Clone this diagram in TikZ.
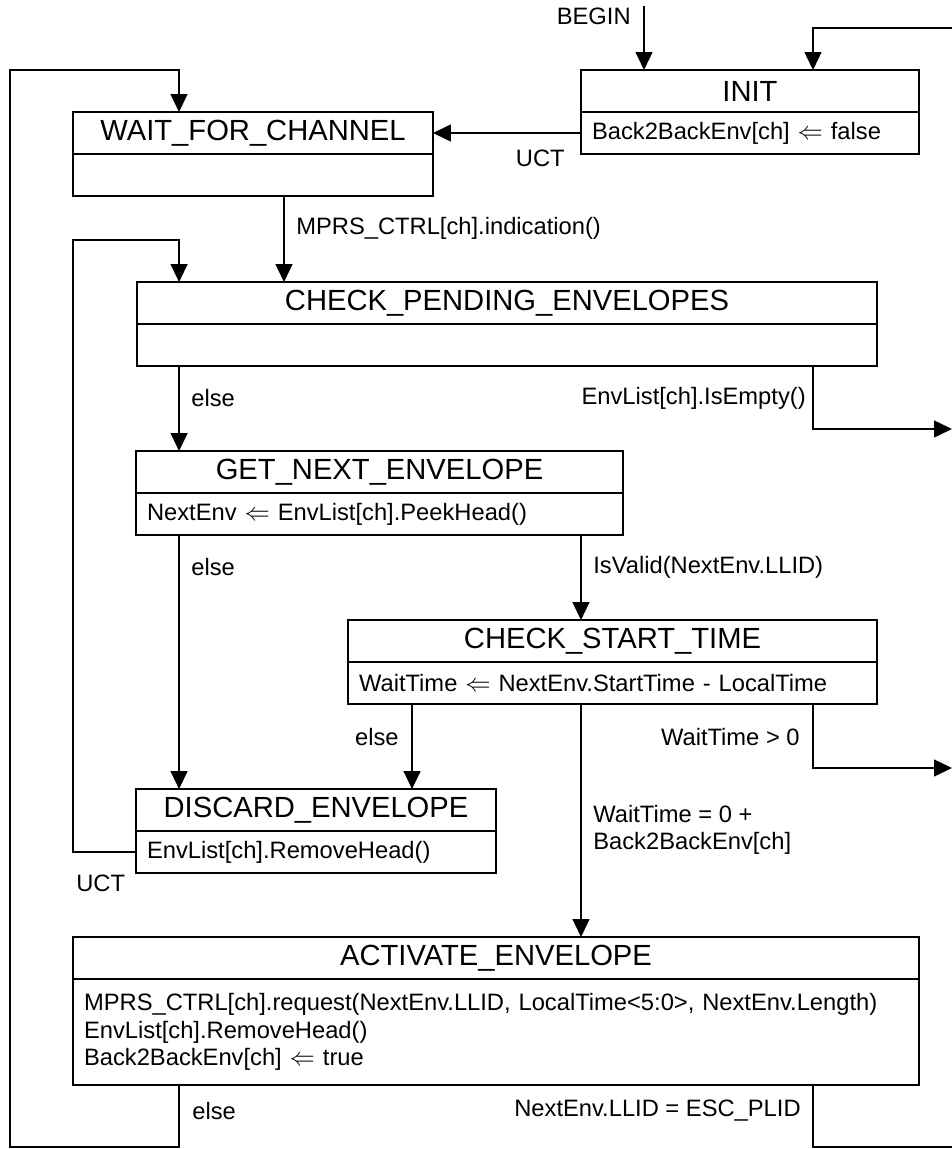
\documentclass[tikz,border=0pt]{standalone}
\usepackage{fontspec}
\setmainfont{Liberation Sans}
\usetikzlibrary{arrows.meta,positioning}

\tikzset{
  box/.style={draw, line width=0.9pt, outer sep=0pt, minimum height=0.84cm},
  title/.style={box, anchor=north, inner sep=0pt, font=\fontsize{16.6}{20}\selectfont},
  body/.style={box, inner xsep=0.22cm, align=left, font=\fontsize{13.5}{14.7}\selectfont},
  lbl/.style={inner sep=0pt, font=\fontsize{13.5}{15}\selectfont},
  trans/.style={line width=0.8pt, -{Triangle[length=0.36cm,width=0.34cm]}},
  plain/.style={line width=0.8pt}
}

\begin{document}
\begin{tikzpicture}[x=0.02cm, y=-0.02cm]
                \useasboundingbox (0,0) rectangle (952,1149);
                % states
                \node[title, minimum width=6.76cm] (init) at (750,70) {INIT};
                \node[body, text width=6.32cm, below=0pt of init] (initB) {Back2BackEnv[ch] $\Leftarrow$ false};
                \node[title, minimum width=7.2cm] (waitch) at (253,112) {WAIT\_FOR\_CHANNEL};
                \node[body, text width=6.76cm, below=0pt of waitch] (waitchB) {};
                \node[title, minimum width=14.8cm] (chkpend) at (507,282) {CHECK\_PENDING\_ENVELOPES};
                \node[body, text width=14.36cm, below=0pt of chkpend] (chkpendB) {};
                \node[title, minimum width=9.74cm] (getnext) at (379.5,451) {GET\_NEXT\_ENVELOPE};
                \node[body, text width=9.3cm, below=0pt of getnext] (getnextB) {NextEnv $\Leftarrow$ EnvList[ch].PeekHead()};
                \node[title, minimum width=10.58cm] (chkstart) at (612.5,620) {CHECK\_START\_TIME};
                \node[body, text width=10.14cm, below=0pt of chkstart] (chkstartB) {WaitTime $\Leftarrow$ NextEnv.StartTime - LocalTime};
                \node[title, minimum width=7.2cm] (discard) at (316,789) {DISCARD\_ENVELOPE};
                \node[body, text width=6.76cm, below=0pt of discard] (discardB) {EnvList[ch].RemoveHead()};
                \node[title, minimum width=16.92cm] (activate) at (496,937) {ACTIVATE\_ENVELOPE};
                \node[body, text width=16.48cm, minimum height=2.12cm, font=\fontsize{13.5}{15.6}\selectfont, below=0pt of activate] (activateB) {MPRS\_CTRL[ch].request(NextEnv.LLID, LocalTime<5:0>, NextEnv.Length)\\EnvList[ch].RemoveHead()\\Back2BackEnv[ch] $\Leftarrow$ true};
                % free ends and bends
                \coordinate (begin) at (644,6);
                \coordinate (toinit) at (952,28);
                \coordinate (outerbot) at (10,1147);
                \coordinate (outertop) at (10,70);
                \coordinate (innertop) at (73,240);
                \coordinate (exitempty) at (952,429);
                \coordinate (exitwait) at (952,768);
                \coordinate (toesc) at (952,1147);
                % transitions
                \draw[trans] (begin) -- (begin |- init.north);
                \draw[trans] (toinit) -| ([xshift=1.26cm]init.north);
                \draw[trans] (initB.west) -- (initB.west -| waitch.east);
                \draw[trans] ([xshift=-6.34cm]activateB.south) |- (outerbot) -- (outertop) -| ([xshift=-1.48cm]waitch.north);
                \draw[trans] ([xshift=0.62cm]waitchB.south) -- ([xshift=0.62cm]waitchB.south |- chkpend.north);
                \draw[trans] (discardB.west) -| (innertop) -| ([xshift=-6.56cm]chkpend.north);
                \draw[trans] ([xshift=-6.56cm]chkpendB.south) -- ([xshift=-6.56cm]chkpendB.south |- getnext.north);
                \draw[trans] ([xshift=6.12cm]chkpendB.south) |- (exitempty);
                \draw[trans] ([xshift=-4.01cm]getnextB.south) -- ([xshift=-4.01cm]getnextB.south |- discard.north);
                \draw[trans] ([xshift=4.03cm]getnextB.south) -- ([xshift=4.03cm]getnextB.south |- chkstart.north);
                \draw[trans] ([xshift=-4.01cm]chkstartB.south) -- ([xshift=-4.01cm]chkstartB.south |- discard.north);
                \draw[trans] ([xshift=-0.63cm]chkstartB.south) -- ([xshift=-0.63cm]chkstartB.south |- activate.north);
                \draw[trans] ([xshift=4.01cm]chkstartB.south) |- (exitwait);
                \draw[plain] ([xshift=6.34cm]activateB.south) |- (toesc);
                % labels
                \node[lbl, anchor=east] (lbegin) at (631,16) {BEGIN};
                \node[lbl, anchor=east] (luct) at (565,158) {UCT};
                \node[lbl, anchor=west] (lind) at (296,228) {MPRS\_CTRL[ch].indication()};
                \node[lbl, anchor=west] (lelsea) at (191,398) {else};
                \node[lbl, anchor=east] (lempty) at (806,398) {EnvList[ch].IsEmpty()};
                \node[lbl, anchor=west] (lelseb) at (191,567) {else};
                \node[lbl, anchor=west] (lvalid) at (593,567) {IsValid(NextEnv.LLID)};
                \node[lbl, anchor=east] (lelsec) at (399,737) {else};
                \node[lbl, anchor=east] (lwait) at (800,737) {WaitTime > 0};
                \node[lbl, anchor=west, align=left] (lnow) at (593,830) {WaitTime = 0 +\\Back2BackEnv[ch]};
                \node[lbl, anchor=west] (luctb) at (76,883) {UCT};
                \node[lbl, anchor=west] (lelsed) at (192,1111) {else};
                \node[lbl, anchor=east] (lesc) at (801,1111) {NextEnv.LLID = ESC\_PLID};
            \end{tikzpicture}
\end{document}
